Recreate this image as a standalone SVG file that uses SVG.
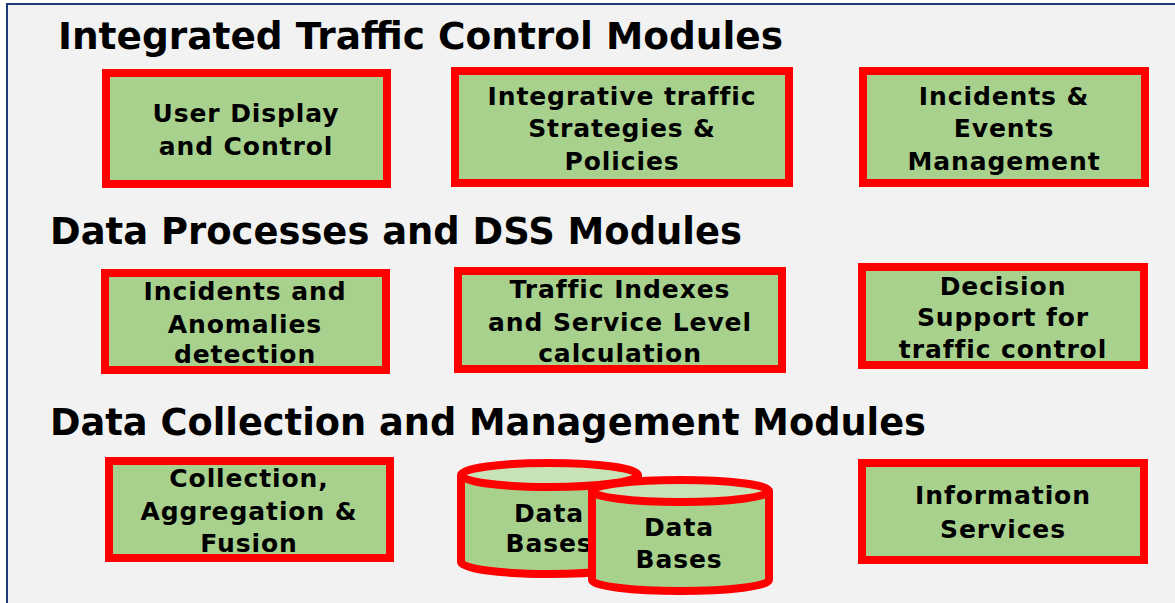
<svg xmlns="http://www.w3.org/2000/svg" width="1175" height="603" viewBox="0 0 1175 603">
<style>
.title{font-family:"DejaVu Sans",Verdana,sans-serif;font-weight:bold;font-size:37px;fill:#000}
.lbl{font-family:"DejaVu Sans",Verdana,sans-serif;font-weight:bold;font-size:25px;letter-spacing:0.9px;fill:#000;text-anchor:middle}
.box{fill:#a9d18e;stroke:#ff0000;stroke-width:8}
.cyl{fill:#a9d18e;stroke:#ff0000;stroke-width:8}
.cyltop{fill:#c9e3b8;stroke:#ff0000;stroke-width:8}
</style>
<rect x="0" y="0" width="1175" height="603" fill="#ffffff"/>
<rect x="7" y="4" width="1175" height="610" fill="#f2f2f2" stroke="#1f3b73" stroke-width="2"/>
<g id="titles">
<text class="title" x="58" y="49" textLength="725" lengthAdjust="spacingAndGlyphs">Integrated Traffic Control Modules</text>
<text class="title" x="50" y="244" textLength="692" lengthAdjust="spacingAndGlyphs">Data Processes and DSS Modules</text>
<text class="title" x="50" y="435" textLength="876" lengthAdjust="spacingAndGlyphs">Data Collection and Management Modules</text>
</g>
<g id="n1"><rect class="box" x="106" y="73" width="281" height="111"/>
<text class="lbl" x="246" y="122">User Display</text><text class="lbl" x="246" y="155">and Control</text></g>
<g id="n2"><rect class="box" x="455" y="71" width="334" height="112"/>
<text class="lbl" x="622" y="105">Integrative traffic</text><text class="lbl" x="622" y="137">Strategies &amp;</text><text class="lbl" x="622" y="170">Policies</text></g>
<g id="n3"><rect class="box" x="863" y="71" width="282" height="112"/>
<text class="lbl" x="1004" y="105">Incidents &amp;</text><text class="lbl" x="1004" y="137">Events</text><text class="lbl" x="1004" y="170">Management</text></g>
<g id="n4"><rect class="box" x="105" y="273" width="281" height="97"/>
<text class="lbl" x="245" y="300">Incidents and</text><text class="lbl" x="245" y="333">Anomalies</text><text class="lbl" x="245" y="363">detection</text></g>
<g id="n5"><rect class="box" x="458" y="271" width="324" height="98"/>
<text class="lbl" x="620" y="298">Traffic Indexes</text><text class="lbl" x="620" y="331">and Service Level</text><text class="lbl" x="620" y="362">calculation</text></g>
<g id="n6"><rect class="box" x="862" y="267" width="282" height="98"/>
<text class="lbl" x="1003" y="295">Decision</text><text class="lbl" x="1003" y="326">Support for</text><text class="lbl" x="1003" y="358">traffic control</text></g>
<g id="n7"><rect class="box" x="109" y="461" width="281" height="97"/>
<text class="lbl" x="249" y="487">Collection,</text><text class="lbl" x="249" y="520">Aggregation &amp;</text><text class="lbl" x="249" y="552">Fusion</text></g>
<g id="n8"><path class="cyl" d="M461 475 L461 562 A88.5 12 0 0 0 638 562 L638 475"/>
<ellipse class="cyltop" cx="549.5" cy="475" rx="88.5" ry="12"/>
<text class="lbl" x="549" y="522">Data</text><text class="lbl" x="549" y="552">Bases</text></g>
<g id="n9"><path class="cyl" d="M592 491 L592 580 A88.5 11 0 0 0 769 580 L769 491"/>
<ellipse class="cyltop" cx="680.5" cy="491" rx="88.5" ry="11"/>
<text class="lbl" x="679" y="536">Data</text><text class="lbl" x="679" y="568">Bases</text></g>
<g id="n10"><rect class="box" x="862" y="463" width="282" height="97"/>
<text class="lbl" x="1003" y="504">Information</text><text class="lbl" x="1003" y="538">Services</text></g>
<g id="connectors"/>
</svg>
